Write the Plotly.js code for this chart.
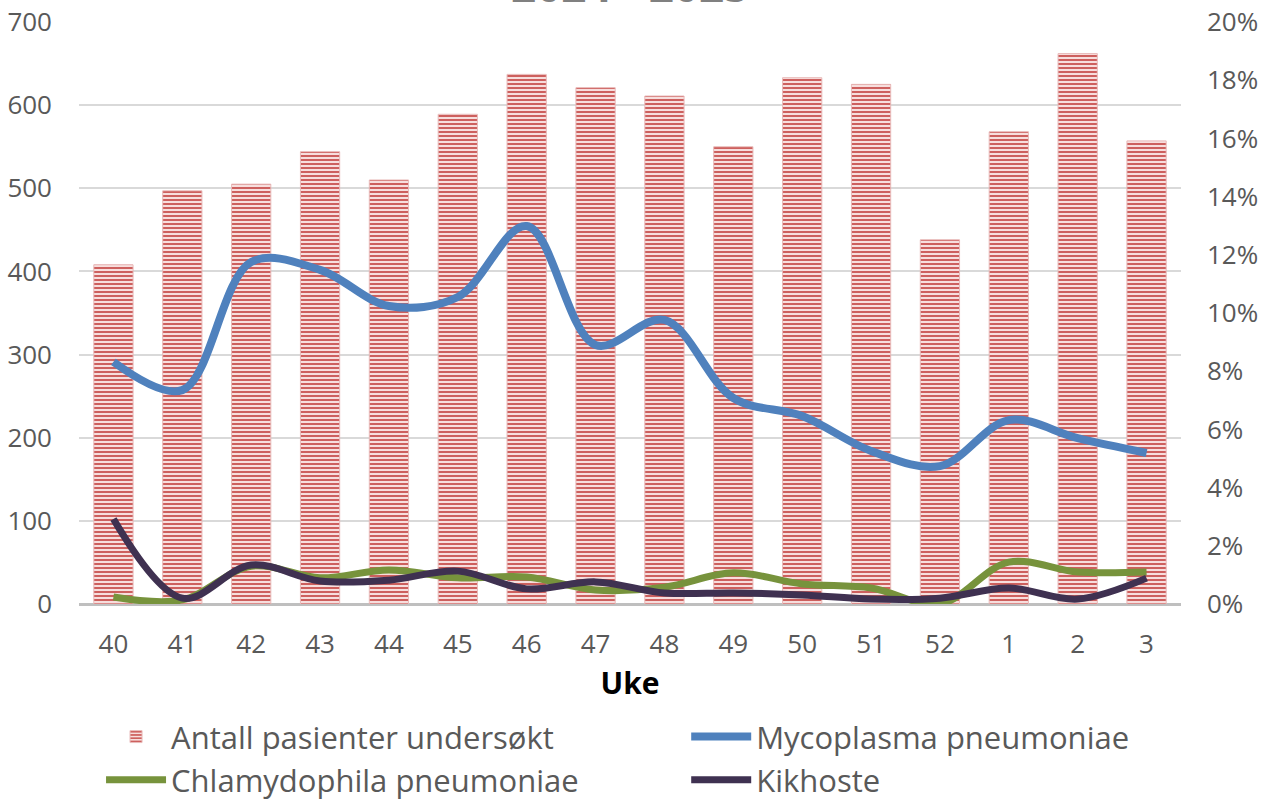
<!DOCTYPE html>
<html>
<head>
<meta charset="utf-8">
<script src="https://cdn.plot.ly/plotly-3.0.1.min.js"></script>
<style>html,body{margin:0;padding:0;background:#fff;}#chart{width:1271px;height:801px;}</style>
</head>
<body>
<div id="chart"></div>
<script>
const weeks = ["40","41","42","43","44","45","46","47","48","49","50","51","52","1","2","3"];
const patients = [408,497,505,544,510,589,637,621,611,550,633,625,438,568,662,557];
const mycoplasma = [0.0832,0.0735,0.1175,0.1148,0.1024,0.1055,0.1299,0.0890,0.0976,0.0708,0.0646,0.0526,0.0474,0.0632,0.0570,0.0519];
const chlamydophila = [0.0024,0.0014,0.0130,0.0090,0.0117,0.0090,0.0093,0.0048,0.0058,0.0107,0.0069,0.0055,0.0000,0.0144,0.0110,0.0110];
const kikhoste = [0.0292,0.0020,0.0134,0.0079,0.0082,0.0113,0.0052,0.0076,0.0038,0.0038,0.0031,0.0017,0.0020,0.0055,0.0017,0.0089];
const titleText = "2024 - 2025";

const font = "Open Sans, Liberation Sans, Arial, sans-serif";
const traces = [
  {type:"bar", x:weeks, y:patients, name:"Antall pasienter undersøkt", legend:"legend",
   marker:{color:"#f4d6d5", line:{color:"#e8b9b8", width:1},
     pattern:{shape:"-", fgcolor:"#c9524f", bgcolor:"#f7dedd", size:4, solidity:0.45}}},
  {type:"scatter", mode:"lines", x:weeks, y:mycoplasma, yaxis:"y2", name:"Mycoplasma pneumoniae", legend:"legend2",
   line:{color:"#4f81bd", width:8, shape:"spline", smoothing:1}},
  {type:"scatter", mode:"lines", x:weeks, y:chlamydophila, yaxis:"y2", name:"Chlamydophila pneumoniae", legend:"legend",
   line:{color:"#77933c", width:7, shape:"spline", smoothing:1}},
  {type:"scatter", mode:"lines", x:weeks, y:kikhoste, yaxis:"y2", name:"Kikhoste", legend:"legend2",
   line:{color:"#3f3151", width:7, shape:"spline", smoothing:1}}
];

const legendBase = {orientation:"v", xanchor:"left", y:-0.182, yanchor:"top", itemwidth:60,
  font:{size:31, color:"#595959", family:font}, traceorder:"normal", tracegroupgap:0, bgcolor:"rgba(0,0,0,0)"};

const layout = {
  width:1271, height:801,
  margin:{l:79, r:90, t:22, b:197, autoexpand:false},
  paper_bgcolor:"#fff", plot_bgcolor:"#fff",
  font:{family:font, color:"#595959", size:26},
  bargap:0.43,
  showlegend:true,
  xaxis:{type:"category", tickfont:{size:26, color:"#595959"}, ticks:"", showgrid:false,
    showline:false, zeroline:false, ticklabelstandoff:22, automargin:false,
    title:{text:"Uke", font:{size:30, color:"#000", family:font, weight:"bold"}, standoff:12}},
  yaxis:{range:[0,700], dtick:100, tickfont:{size:26, color:"#595959"}, showgrid:true,
    gridcolor:"#d9d9d9", gridwidth:2, zeroline:true, zerolinecolor:"#bfbfbf", zerolinewidth:3,
    ticks:"", showline:false, ticklabelstandoff:26, automargin:false},
  yaxis2:{range:[0,0.2], dtick:0.02, tickformat:".0%", overlaying:"y", side:"right", automargin:false,
    showgrid:false, zeroline:false, tickfont:{size:26, color:"#595959"}, ticks:"", ticklabelstandoff:25},
  legend:Object.assign({}, legendBase, {x:0.02}),
  legend2:Object.assign({}, legendBase, {x:0.551}),
  annotations:[{text:"<b>"+titleText+"</b>", xref:"paper", yref:"paper", x:0.5, y:1.008,
    xanchor:"center", yanchor:"bottom", showarrow:false, font:{size:44, color:"#808080", family:font}}]
};
Plotly.newPlot("chart", traces, layout, {displayModeBar:false, staticPlot:true});
</script>
</body>
</html>
